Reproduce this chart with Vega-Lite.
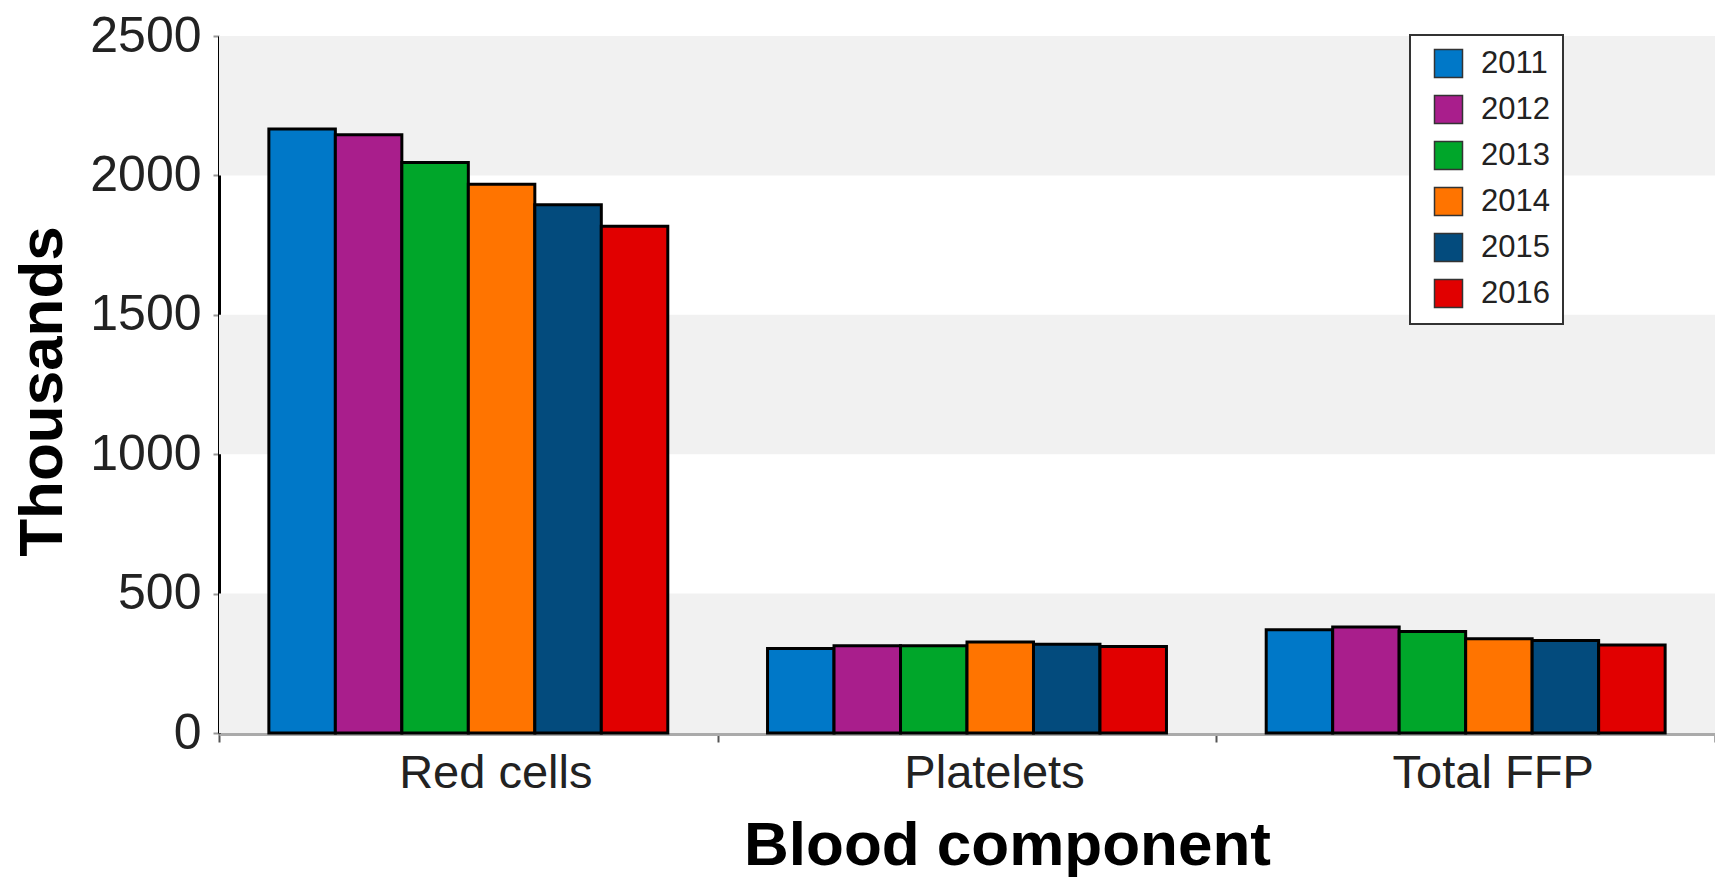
{
  "$schema": "https://vega.github.io/schema/vega-lite/v6.json",
  "width": 1496,
  "height": 697,
  "autosize": {"type": "none"},
  "padding": {"left": 219, "top": 36, "right": 0, "bottom": 144},
  "background": "white",
  "config": {
    "view": {"stroke": null},
    "font": "Liberation Sans",
    "axisY": {
      "domainColor": "#000000",
      "domainWidth": 3,
      "tickColor": "#999999",
      "tickWidth": 2,
      "tickSize": 6,
      "format": "d",
      "labelFontSize": 50,
      "labelColor": "#222222",
      "labelPadding": 12,
      "titleFontSize": 62,
      "titleFontWeight": "bold",
      "titleColor": "#000000",
      "titleAngle": -90,
      "titleAlign": "center",
      "titleBaseline": "alphabetic",
      "titleX": -158,
      "titleY": 355,
      "grid": false,
      "zindex": 1
    },
    "axisX": {
      "domainColor": "#aaaaaa",
      "domainWidth": 5,
      "tickColor": "#555555",
      "tickWidth": 2,
      "tickSize": 9,
      "tickBand": "extent",
      "labelAngle": 0,
      "labelLimit": 0,
      "labelFontSize": 47,
      "labelColor": "#222222",
      "labelPadding": 8,
      "labelOffset": 27,
      "titleFontSize": 62,
      "titleFontWeight": "bold",
      "titleColor": "#000000",
      "titleBaseline": "alphabetic",
      "titleX": 788,
      "titleY": 131,
      "grid": false,
      "zindex": 1
    },
    "legend": {
      "orient": "none",
      "legendX": 1191,
      "legendY": -1,
      "padding": 13,
      "fillColor": "#ffffff",
      "strokeColor": "#333333",
      "strokeWidth": 2,
      "symbolType": "square",
      "symbolSize": 784,
      "symbolOffset": 10,
      "symbolStrokeColor": "#333333",
      "symbolStrokeWidth": 1.5,
      "symbolOpacity": 1,
      "labelFontSize": 31,
      "labelColor": "#222222",
      "labelOffset": 17,
      "rowPadding": 11
    }
  },
  "datasets": {
    "bands": [
      {"lo": 0, "hi": 500},
      {"lo": 1000, "hi": 1500},
      {"lo": 2000, "hi": 2500}
    ],
    "issues": [
      {"component": "Red cells", "year": "2011", "value": 2166},
      {"component": "Red cells", "year": "2012", "value": 2146},
      {"component": "Red cells", "year": "2013", "value": 2046},
      {"component": "Red cells", "year": "2014", "value": 1968},
      {"component": "Red cells", "year": "2015", "value": 1895},
      {"component": "Red cells", "year": "2016", "value": 1818},
      {"component": "Platelets", "year": "2011", "value": 303},
      {"component": "Platelets", "year": "2012", "value": 313},
      {"component": "Platelets", "year": "2013", "value": 313},
      {"component": "Platelets", "year": "2014", "value": 326},
      {"component": "Platelets", "year": "2015", "value": 318},
      {"component": "Platelets", "year": "2016", "value": 310},
      {"component": "Total FFP", "year": "2011", "value": 370},
      {"component": "Total FFP", "year": "2012", "value": 380},
      {"component": "Total FFP", "year": "2013", "value": 364},
      {"component": "Total FFP", "year": "2014", "value": 338},
      {"component": "Total FFP", "year": "2015", "value": 332},
      {"component": "Total FFP", "year": "2016", "value": 316}
    ]
  },
  "layer": [
    {
      "data": {"name": "bands"},
      "mark": {"type": "rect", "color": "#f1f1f1"},
      "encoding": {
        "y": {
          "field": "lo",
          "type": "quantitative",
          "scale": {"domain": [0, 2500], "nice": false},
          "axis": {"values": [0, 500, 1000, 1500, 2000, 2500]},
          "title": "Thousands"
        },
        "y2": {"field": "hi"}
      }
    },
    {
      "data": {"name": "issues"},
      "mark": {"type": "bar", "stroke": "#000000", "strokeWidth": 3},
      "encoding": {
        "x": {
          "field": "component",
          "type": "nominal",
          "sort": ["Red cells", "Platelets", "Total FFP"],
          "scale": {"paddingInner": 0, "paddingOuter": 0},
          "title": "Blood component"
        },
        "xOffset": {
          "field": "year",
          "type": "nominal",
          "scale": {"paddingInner": 0, "paddingOuter": 0.75}
        },
        "y": {
          "field": "value",
          "type": "quantitative",
          "scale": {"domain": [0, 2500], "nice": false},
          "axis": {"values": [0, 500, 1000, 1500, 2000, 2500]},
          "title": "Thousands"
        },
        "color": {
          "field": "year",
          "type": "nominal",
          "scale": {
            "domain": ["2011", "2012", "2013", "2014", "2015", "2016"],
            "range": ["#0078c8", "#a91e8c", "#00a62a", "#ff7400", "#034b7d", "#e10000"]
          },
          "legend": {"title": null}
        }
      }
    }
  ]
}
